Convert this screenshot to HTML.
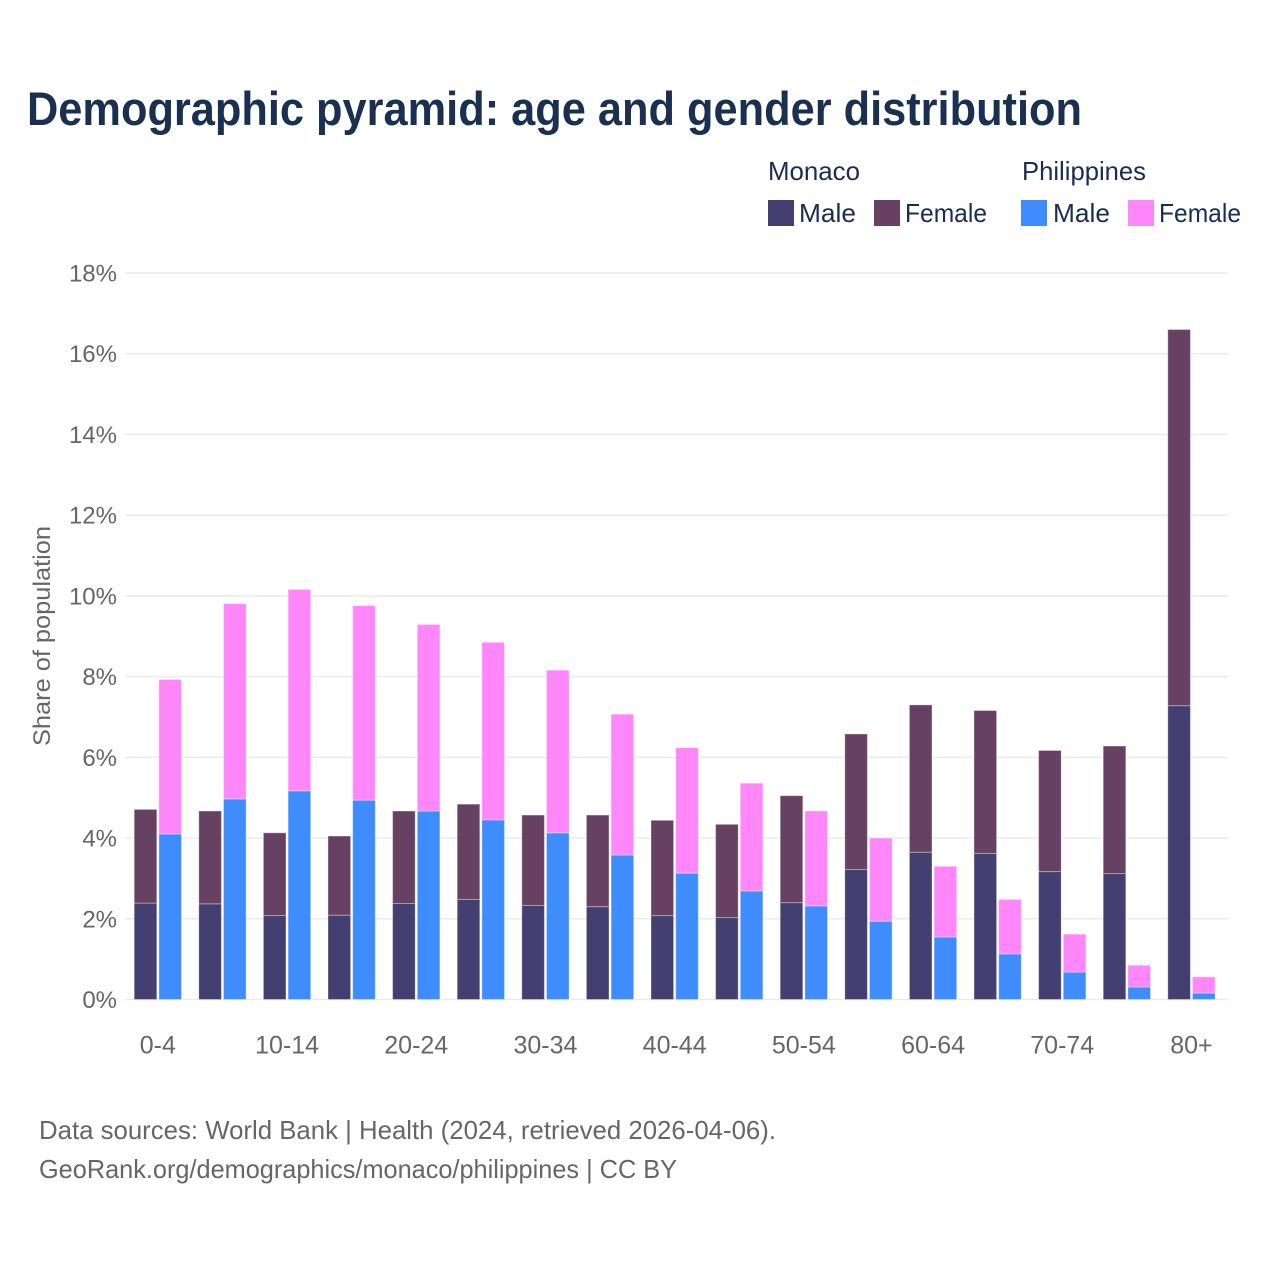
<!DOCTYPE html>
<html lang="en">
<head>
<meta charset="utf-8">
<title>Demographic pyramid</title>
<style>
html,body{margin:0;padding:0;background:#fff;}
svg{display:block;}
text{font-family:"Liberation Sans",sans-serif;}
</style>
</head>
<body>
<svg id="chart" width="1280" height="1280" viewBox="0 0 1280 1280" xmlns="http://www.w3.org/2000/svg">
  <rect x="0" y="0" width="1280" height="1280" fill="#ffffff"/>
  <text x="27" y="125" font-size="47" font-weight="700" fill="#1a3050" textLength="1055" lengthAdjust="spacingAndGlyphs">Demographic pyramid: age and gender distribution</text>
  <g font-size="26" fill="#1a2c52">
    <text x="768" y="180" textLength="92" lengthAdjust="spacingAndGlyphs">Monaco</text>
    <text x="1022" y="180" textLength="124" lengthAdjust="spacingAndGlyphs">Philippines</text>
    <rect x="768" y="200" width="26" height="26" fill="#433f70"/>
    <text x="799" y="222" textLength="57" lengthAdjust="spacingAndGlyphs">Male</text>
    <rect x="874" y="200" width="26" height="26" fill="#674162"/>
    <text x="905" y="222" textLength="82" lengthAdjust="spacingAndGlyphs">Female</text>
    <rect x="1021" y="200" width="26" height="26" fill="#3f8cff"/>
    <text x="1053" y="222" textLength="57" lengthAdjust="spacingAndGlyphs">Male</text>
    <rect x="1128" y="200" width="26" height="26" fill="#ff87f9"/>
    <text x="1159" y="222" textLength="82" lengthAdjust="spacingAndGlyphs">Female</text>
  </g>
  <g id="grid"></g>
  <g id="y-ticks"></g>
  <g id="bars"></g>
  <g id="x-ticks"></g>
  <text x="0" y="0" transform="translate(50 636) rotate(-90)" text-anchor="middle" font-size="24" fill="#666666" textLength="220" lengthAdjust="spacingAndGlyphs">Share of population</text>
  <text x="39" y="1139" font-size="26" fill="#666666" textLength="737" lengthAdjust="spacingAndGlyphs">Data sources: World Bank | Health (2024, retrieved 2026-04-06).</text>
  <text x="39" y="1178" font-size="26" fill="#666666" textLength="638" lengthAdjust="spacingAndGlyphs">GeoRank.org/demographics/monaco/philippines | CC BY</text>
</svg>
<script>
const ageGroups = ["0-4","5-9","10-14","15-19","20-24","25-29","30-34","35-39","40-44","45-49","50-54","55-59","60-64","65-69","70-74","75-79","80+"];
const monacoMale = [2.39,2.37,2.08,2.09,2.38,2.48,2.33,2.30,2.08,2.03,2.40,3.22,3.65,3.62,3.17,3.12,7.28];
const monacoFemale = [2.32,2.30,2.05,1.96,2.29,2.36,2.24,2.27,2.36,2.31,2.65,3.36,3.65,3.54,3.00,3.16,9.32];
const philippinesMale = [4.10,4.97,5.17,4.94,4.67,4.45,4.13,3.58,3.13,2.69,2.32,1.94,1.55,1.13,0.68,0.31,0.16];
const philippinesFemale = [3.83,4.84,4.99,4.82,4.62,4.40,4.03,3.49,3.11,2.67,2.35,2.06,1.75,1.35,0.94,0.54,0.40];
const yTickValues = [0,2,4,6,8,10,12,14,16,18];
const xTickLabels = ["0-4","10-14","20-24","30-34","40-44","50-54","60-64","70-74","80+"];

const NS = "http://www.w3.org/2000/svg";
const plotBottom = 999.5;
const pxPerUnit = 40.36;
const bandStart = 134.2;
const bandStep = 64.6;
const barWidth = 22.6;
const barGap = 24.7;

function yScale(v) { return plotBottom - v * pxPerUnit; }
function xScale(i) { return bandStart + i * bandStep; }
function groupCenter(i) { return xScale(i) + (barGap + barWidth) / 2; }

const gridLayer = document.getElementById("grid");
const yTickLayer = document.getElementById("y-ticks");
yTickValues.forEach(function (t) {
  const line = document.createElementNS(NS, "line");
  
  
  line.setAttribute("x1", 125);
  line.setAttribute("x2", 1228);
  line.setAttribute("y1", yScale(t));
  line.setAttribute("y2", yScale(t));
  line.setAttribute("stroke", "#ebebeb");
  line.setAttribute("stroke-width", 1.5);
  gridLayer.appendChild(line);

  const label = document.createElementNS(NS, "text");
  
  
  label.setAttribute("x", 117);
  label.setAttribute("y", yScale(t) + 8.5);
  label.setAttribute("text-anchor", "end");
  label.setAttribute("font-size", 24);
  label.setAttribute("fill", "#666666");
  label.textContent = t + "%";
  yTickLayer.appendChild(label);
});

const barLayer = document.getElementById("bars");
function addBar(x, base, value, color) {
  const r = document.createElementNS(NS, "rect");
  
  
  r.setAttribute("x", x);
  r.setAttribute("y", yScale(base + value));
  r.setAttribute("width", barWidth);
  r.setAttribute("height", value * pxPerUnit);
  r.setAttribute("fill", color);
  r.setAttribute("stroke", "#ffffff");
  r.setAttribute("stroke-opacity", 0.35);
  r.setAttribute("stroke-width", 1);
  barLayer.appendChild(r);
}
ageGroups.forEach(function (age, i) {
  addBar(xScale(i), 0, monacoMale[i], "#433f70");
  addBar(xScale(i), monacoMale[i], monacoFemale[i], "#674162");
  addBar(xScale(i) + barGap, 0, philippinesMale[i], "#3f8cff");
  addBar(xScale(i) + barGap, philippinesMale[i], philippinesFemale[i], "#ff87f9");
});

const xTickLayer = document.getElementById("x-ticks");
xTickLabels.forEach(function (name) {
  const i = ageGroups.indexOf(name);
  const label = document.createElementNS(NS, "text");
  
  
  label.setAttribute("x", groupCenter(i));
  label.setAttribute("y", 1053.5);
  label.setAttribute("text-anchor", "middle");
  label.setAttribute("font-size", 25);
  label.setAttribute("fill", "#666666");
  label.textContent = name;
  xTickLayer.appendChild(label);
});
</script>
</body>
</html>
